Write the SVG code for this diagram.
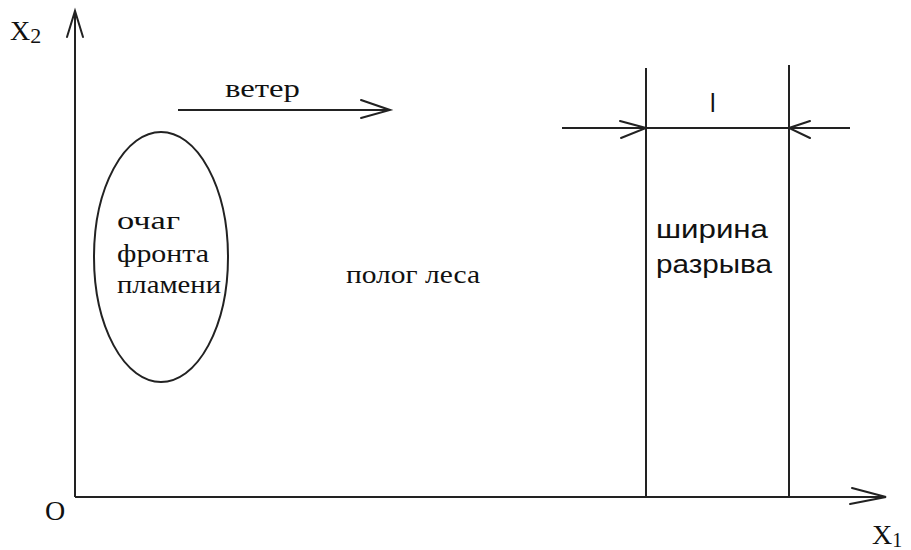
<svg xmlns="http://www.w3.org/2000/svg" width="911" height="550" viewBox="0 0 911 550">
<style>
.ln{stroke:#222;stroke-width:2;fill:none}
.ah{stroke:#222;stroke-width:2;fill:none;stroke-linecap:round}
.serif{font-family:"Liberation Serif","Times New Roman",serif;font-size:26px;fill:#111}
.sans{font-family:"Liberation Sans",Arial,sans-serif;font-size:25px;fill:#111}
.axl{font-family:"Liberation Serif","Times New Roman",serif;font-size:28px;fill:#111}
</style>
<rect width="911" height="550" fill="#fff"/>
<g id="axes">
<line class="ln" x1="75" y1="12" x2="75" y2="497"/>
<polyline class="ah" points="67,37 75,11 83,37"/>
<line class="ln" x1="75" y1="497" x2="886" y2="497"/>
<polyline class="ah" points="852,488 886,497 850,504"/>
<text class="axl" x="10" y="40">X<tspan font-size="22" dy="3">2</tspan></text>
<text class="axl" x="872" y="544" font-size="26">X<tspan font-size="20" dy="3">1</tspan></text>
<text class="axl" x="45" y="520" font-size="24">O</text>
</g>
<g id="wind">
<line class="ln" x1="178" y1="110" x2="390" y2="110"/>
<polyline class="ah" points="361,100 390,110 361,118"/>
<text class="serif" x="225" y="97" textLength="75" lengthAdjust="spacingAndGlyphs">ветер</text>
</g>
<g id="focus">
<ellipse class="ln" cx="161" cy="257" rx="67" ry="125"/>
<text class="serif" x="117" y="229" textLength="63" lengthAdjust="spacingAndGlyphs">очаг</text>
<text class="serif" x="117" y="262" textLength="92" lengthAdjust="spacingAndGlyphs">фронта</text>
<text class="serif" x="117" y="293" textLength="104" lengthAdjust="spacingAndGlyphs">пламени</text>
</g>
<g id="canopy">
<text class="serif" x="346" y="283" textLength="134" lengthAdjust="spacingAndGlyphs">полог леса</text>
</g>
<g id="gap">
<line class="ln" x1="646" y1="68" x2="646" y2="497"/>
<line class="ln" x1="789" y1="65" x2="789" y2="497"/>
<line class="ln" x1="562" y1="128" x2="850" y2="128"/>
<polyline class="ah" points="620,121 646,128 621,138"/>
<polyline class="ah" points="810,121 789,128 810,138"/>
<text class="sans" x="710" y="112">l</text>
<text class="sans" x="656" y="238" textLength="112" lengthAdjust="spacingAndGlyphs">ширина</text>
<text class="sans" x="656" y="273" textLength="116" lengthAdjust="spacingAndGlyphs">разрыва</text>
</g>
</svg>
